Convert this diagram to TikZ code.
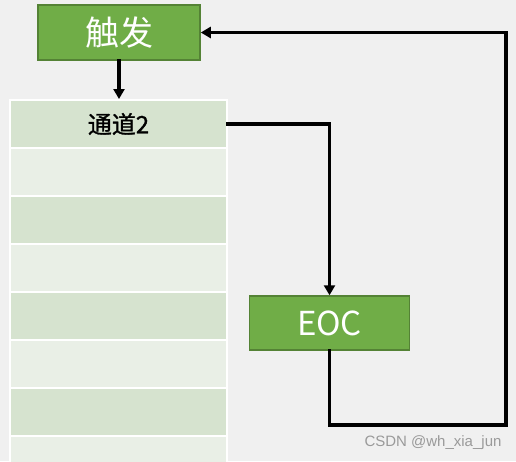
\documentclass[tikz,border=0pt]{standalone}
\usepackage{fontspec}
\setmainfont{Liberation Sans}
\newfontfamily\cjk{Noto Sans CJK SC}
\newfontfamily\cjkmed[FakeBold=1.2]{Noto Sans CJK SC}
\usetikzlibrary{arrows.meta}
\definecolor{bg}{HTML}{F0F0F0}
\definecolor{gfill}{HTML}{70AD47}
\definecolor{gedge}{HTML}{548235}
\definecolor{rowdark}{HTML}{D6E3CF}
\definecolor{rowlight}{HTML}{E9EFE6}
\definecolor{wm}{HTML}{9A9A9A}
\tikzset{
  greenbox/.style={draw=gedge, line width=1.5pt, fill=gfill, text=white, inner sep=0pt},
  rowbox/.style={draw=white, line width=2pt, minimum width=217pt, minimum height=48pt, inner sep=0pt},
  conn/.style={line width=3.2pt, line cap=rect, line join=miter},
  arr/.style={conn, -{Triangle[length=10pt,width=11pt]}}
}
\begin{document}
\begin{tikzpicture}[x=1pt,y=-1pt]
\fill[bg] (0,0) rectangle (516,461);
\useasboundingbox (0,0) rectangle (516,461);
\begin{scope}
\clip (0,0) rectangle (516,461);
\foreach \i/\c in {0/rowdark,1/rowlight,2/rowdark,3/rowlight,4/rowdark,5/rowlight,6/rowdark,7/rowlight}{
  \node[rowbox, fill=\c] (r\i) at (118.5,{124+48*\i}) {};
}
\end{scope}
\node[font=\cjkmed\fontsize{24}{28}\selectfont] (ch) at (r0.center) {通道2};
\node[greenbox, minimum width=162pt, minimum height=55pt, font=\cjk\fontsize{34}{40}\selectfont] (trig) at (119,32.5) {触发};
\node[greenbox, minimum width=160pt, minimum height=54pt, font=\cjk\fontsize{33}{40}\selectfont] (eoc) at (329.5,323) {EOC};
\coordinate (c1) at (506,425);
\draw[arr] (trig.south) -- (trig.south |- r0.north);
\draw[arr] (r0.east) -| (eoc.north);
\draw[arr] (eoc.south) |- (c1) |- (trig.east);
\node[text=wm, font=\fontsize{15}{17}\selectfont] (wmk) at (433,443) {CSDN @wh\_xia\_jun};
\end{tikzpicture}
\end{document}
